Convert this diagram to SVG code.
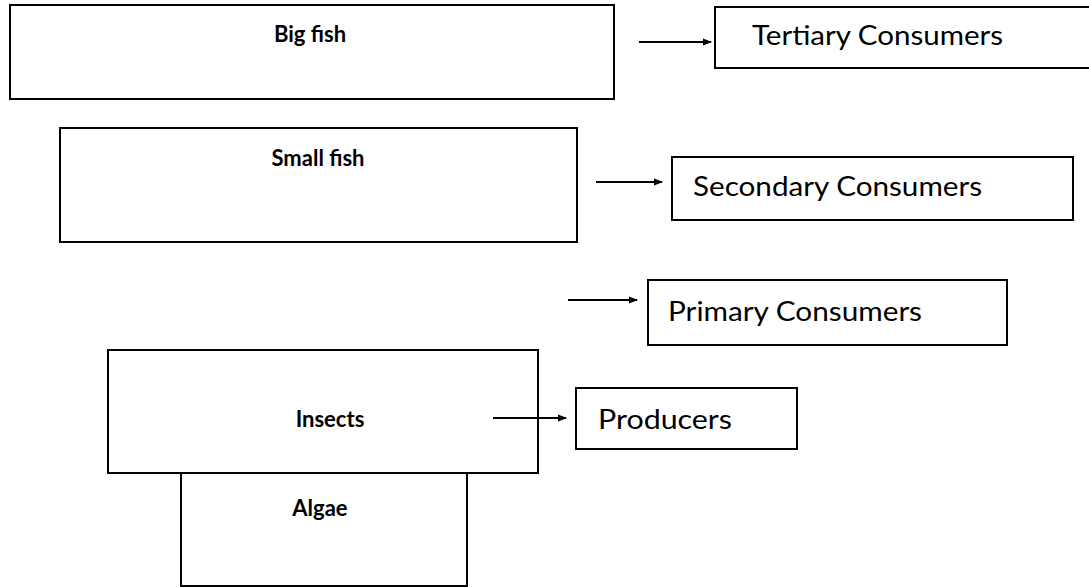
<svg xmlns="http://www.w3.org/2000/svg" width="1089" height="587" viewBox="0 0 1089 587">
<defs>
<marker id="ah" markerWidth="9" markerHeight="8" refX="8" refY="4" orient="auto" markerUnits="userSpaceOnUse">
<path d="M0,0.5 L9,4 L0,7.5 Z" fill="#000"/>
</marker>
<style>
.box{fill:#fff;stroke:#000;stroke-width:2}
.b{font-family:Lato,"Liberation Sans",sans-serif;font-weight:bold;font-size:22px;fill:#000;text-anchor:middle}
.r{font-family:Lato,"Liberation Sans",sans-serif;font-size:26px;fill:#000}
.c{stroke:#000;stroke-width:2;fill:none;marker-end:url(#ah)}
</style>
</defs>
<rect width="1089" height="587" fill="#fff"/>
<g id="bigfish"><rect class="box" x="10" y="5" width="604" height="94"/><text class="b" x="310" y="42">Big fish</text></g>
<g id="smallfish"><rect class="box" x="60" y="128" width="517" height="114"/><text class="b" x="318" y="166">Small fish</text></g>
<g id="insects"><rect class="box" x="108" y="350" width="430" height="123"/><text class="b" x="330" y="427">Insects</text></g>
<g id="algae"><rect class="box" x="181" y="473" width="286" height="113"/><text class="b" x="320" y="516">Algae</text></g>
<g id="tertiary"><rect class="box" x="715" y="7" width="390" height="61"/><text class="r" x="752" y="45" textLength="251" lengthAdjust="spacingAndGlyphs">Tertiary Consumers</text></g>
<g id="secondary"><rect class="box" x="672" y="157" width="401" height="63"/><text class="r" x="693" y="196" textLength="289" lengthAdjust="spacingAndGlyphs">Secondary Consumers</text></g>
<g id="primary"><rect class="box" x="648" y="280" width="359" height="65"/><text class="r" x="668" y="321" textLength="254" lengthAdjust="spacingAndGlyphs">Primary Consumers</text></g>
<g id="producers"><rect class="box" x="576" y="388" width="221" height="61"/><text class="r" x="598" y="429" textLength="134" lengthAdjust="spacingAndGlyphs">Producers</text></g>
<g id="connectors">
<line class="c" x1="639" y1="42" x2="711" y2="42"/>
<line class="c" x1="596" y1="182" x2="662" y2="182"/>
<line class="c" x1="568" y1="300" x2="637" y2="300"/>
<line class="c" x1="493" y1="418" x2="566" y2="418"/>
</g>
</svg>
